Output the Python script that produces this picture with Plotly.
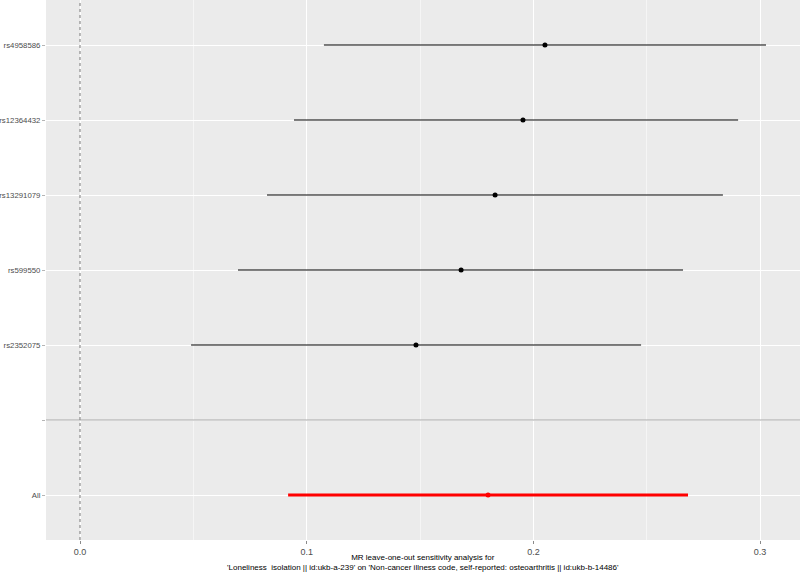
import plotly.graph_objects as go

snps = ["rs4958586", "rs12364432", "rs13291079", "rs599550", "rs2352075", "", "All"]
b = [0.2051, 0.1954, 0.1831, 0.1681, 0.1482, None, 0.1800]
lo = [0.1076, 0.0944, 0.0825, 0.0697, 0.0490, None, 0.0918]
hi = [0.3026, 0.2903, 0.2836, 0.2660, 0.2475, None, 0.2682]
x_ticks = [0.0, 0.1, 0.2, 0.3]
x_tick_labels = ["0.0", "0.1", "0.2", "0.3"]
title_text = ("MR leave-one-out sensitivity analysis for<br>"
              "'Loneliness  isolation || id:ukb-a-239' on 'Non-cancer illness code, "
              "self-reported: osteoarthritis || id:ukb-b-14486'")

n = len(snps)
ypos = [n - i for i in range(n)]  # top to bottom

fig = go.Figure()

blank_idx = snps.index("")
fig.add_hline(y=ypos[blank_idx], line=dict(color="#a8a8a8", width=1))
fig.add_vline(x=0, line=dict(color="#8c8c8c", width=1.2, dash="dot"))

for i, s in enumerate(snps):
    if b[i] is None:
        continue
    is_all = s == "All"
    col = "red" if is_all else "black"
    fig.add_trace(go.Scatter(
        x=[lo[i], hi[i]], y=[ypos[i], ypos[i]], mode="lines",
        line=dict(color=col, width=3 if is_all else 1), showlegend=False,
        hoverinfo="skip"))
    fig.add_trace(go.Scatter(
        x=[b[i]], y=[ypos[i]], mode="markers",
        marker=dict(color="red" if is_all else "black", size=5),
        showlegend=False))

fig.update_layout(
    width=800, height=572,
    margin=dict(l=46, r=0, t=0, b=32),
    paper_bgcolor="white", plot_bgcolor="#ebebeb",
    font=dict(family="Liberation Sans, Arial, sans-serif", size=8, color="#4d4d4d"),
    showlegend=False,
    xaxis=dict(
        range=[-0.0150, 0.3176], tickvals=x_ticks, ticktext=x_tick_labels,
        showgrid=True, gridcolor="white", gridwidth=1.1, zeroline=False,
        ticks="outside", ticklen=3, tickcolor="#8a8a8a", tickwidth=1,
        tickfont=dict(size=9, color="#4d4d4d"),
        minor=dict(tickvals=[0.05, 0.15, 0.25], showgrid=True, gridcolor="#f5f5f5", gridwidth=0.6, ticks=""),
        showline=False, automargin=False,
    ),
    yaxis=dict(
        range=[0.4, 7.6], tickvals=ypos, ticktext=snps,
        showgrid=True, gridcolor="white", gridwidth=1.1, zeroline=False,
        ticks="outside", ticklen=3, tickcolor="#b5b5b5", tickwidth=1,
        tickfont=dict(size=7.8, color="#4d4d4d"),
        showline=False, automargin=False,
    ),
)

fig.add_annotation(
    x=0.5, xref="paper", y=0, yref="paper", yanchor="top", yshift=-11,
    text=title_text, showarrow=False, align="center",
    font=dict(size=8, color="black"),
)

fig.write_html("out.html", config={"displayModeBar": False},
               post_script="document.body.style.margin='0';document.body.style.padding='0';")
